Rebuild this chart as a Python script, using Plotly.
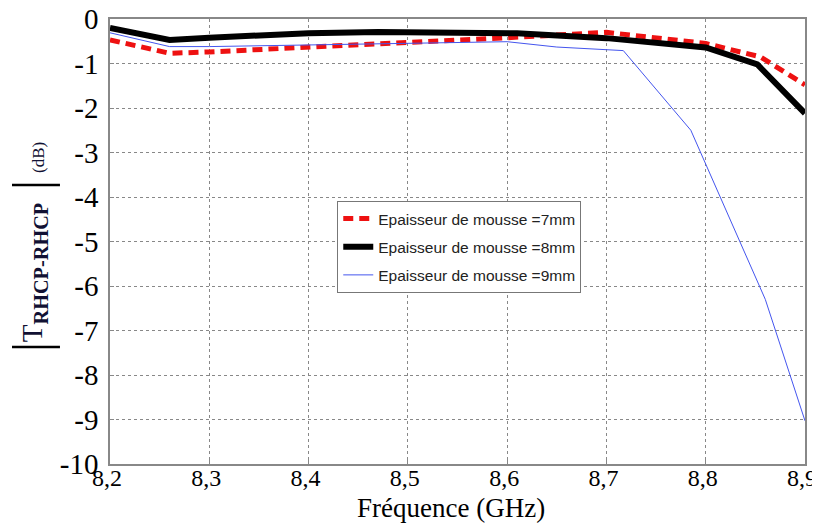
import plotly.graph_objects as go

# ---- data ----
freq_7mm = [8.2, 8.26, 8.3, 8.4, 8.5, 8.6, 8.7, 8.8, 8.855, 8.9]
tr_7mm = [-0.47, -0.77, -0.74, -0.64, -0.52, -0.42, -0.30, -0.55, -0.85, -1.48]

freq_8mm = [8.2, 8.26, 8.3, 8.4, 8.47, 8.61, 8.7, 8.8, 8.852, 8.9]
tr_8mm = [-0.20, -0.47, -0.42, -0.32, -0.29, -0.32, -0.43, -0.64, -1.02, -2.12]

freq_9mm = [8.2, 8.26, 8.3, 8.4, 8.5, 8.6, 8.65, 8.717, 8.785, 8.86, 8.9]
tr_9mm = [-0.31, -0.62, -0.62, -0.58, -0.54, -0.51, -0.63, -0.71, -2.5, -6.3, -9.03]

series_names = ["Epaisseur de mousse =7mm", "Epaisseur de mousse =8mm", "Epaisseur de mousse =9mm"]

x_tickvals = [8.2, 8.3, 8.4, 8.5, 8.6, 8.7, 8.8, 8.9]
x_ticktext = ["8,2", "8,3", "8,4", "8,5", "8,6", "8,7", "8,8", "8,9"]
y_tickvals = [0, -1, -2, -3, -4, -5, -6, -7, -8, -9, -10]
y_ticktext = ["0", "-1", "-2", "-3", "-4", "-5", "-6", "-7", "-8", "-9", "-10"]

serif = "Liberation Serif, Times New Roman, serif"
sans = "Liberation Sans, Arial, sans-serif"

fig = go.Figure()
fig.add_trace(go.Scatter(x=freq_7mm, y=tr_7mm, mode="lines", name=series_names[0], legendgroup="g7",
                         line=dict(color="#ee1111", width=5, dash="10px,6px")))
fig.add_trace(go.Scatter(x=freq_8mm, y=tr_8mm, mode="lines", name=series_names[1], legendgroup="g8",
                         line=dict(color="#000000", width=6)))
fig.add_trace(go.Scatter(x=freq_9mm, y=tr_9mm, mode="lines", name=series_names[2], legendgroup="g9",
                         line=dict(color="#4455ee", width=1)))

axis_common = dict(showline=True, mirror=True, linecolor="#888888", linewidth=1.5,
                   showgrid=True, gridcolor="#888888", griddash="dot", gridwidth=1,
                   zeroline=False, ticks="inside", ticklen=4, tickcolor="#888888",
                   automargin=False, ticklabeloverflow="allow")

fig.update_xaxes(range=[8.2, 8.9], tickvals=x_tickvals, ticktext=x_ticktext,
                 tickfont=dict(family=serif, size=24, color="black"),
                 ticklabelstandoff=-9, ticklabelshift=-3, **axis_common)
fig.update_yaxes(range=[-10, 0], tickvals=y_tickvals, ticktext=y_ticktext,
                 tickfont=dict(family=serif, size=29, color="black"),
                 ticklabelstandoff=4, **axis_common)

# x-axis title
fig.add_annotation(xref="paper", yref="paper", x=0.49, y=-0.099, xanchor="center", yanchor="middle",
                   text="Fréquence (GHz)", showarrow=False,
                   font=dict(family=serif, size=27, color="black"))

# y-axis label built from text + bars
fig.add_annotation(xref="paper", yref="paper", x=-0.11, y=0.43, xanchor="center", yanchor="middle",
                   text="T<sub><b>RHCP-RHCP</b></sub>", textangle=-90, showarrow=False,
                   font=dict(family=serif, size=29, color="#111133"))
fig.add_annotation(xref="paper", yref="paper", x=-0.102, y=0.688, xanchor="center", yanchor="middle",
                   text="(dB)", textangle=-90, showarrow=False,
                   font=dict(family=serif, size=17, color="#111133"))
for yb in [0.627, 0.263]:
    fig.add_shape(type="line", xref="paper", yref="paper", x0=-0.141, x1=-0.072, y0=yb, y1=yb,
                  line=dict(color="black", width=2.5))

# page body adds an 8px offset, so the figure is sized/margined to land the plot at the reference position
fig.update_layout(
    width=812, height=516,
    margin=dict(l=102, r=15, t=11, b=60),
    paper_bgcolor="white", plot_bgcolor="white",
    showlegend=True,
    legend=dict(x=0.327, y=0.591, xanchor="left", yanchor="top",
                bgcolor="white", bordercolor="#777777", borderwidth=1,
                font=dict(family=sans, size=15.5, color="#222222"),
                tracegroupgap=5, itemwidth=30),
)

fig.write_html("out.html")
